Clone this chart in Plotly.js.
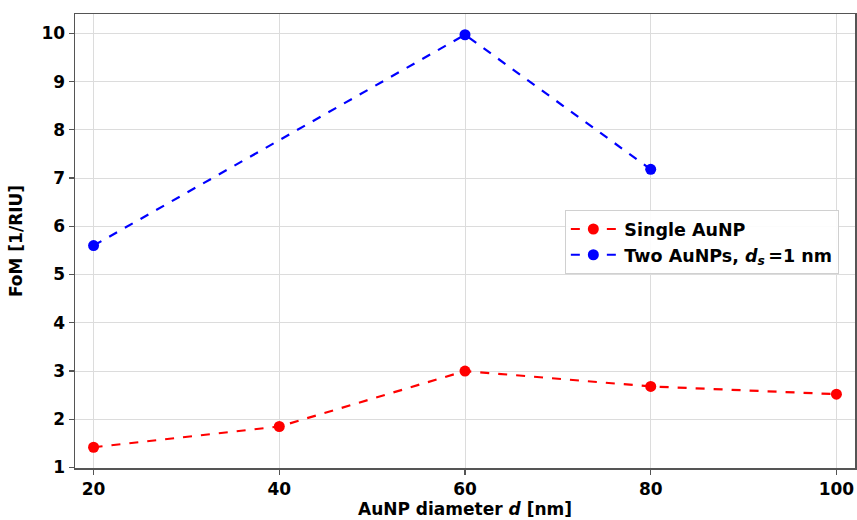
<!DOCTYPE html>
<html>
<head>
<meta charset="utf-8">
<script src="https://cdn.plot.ly/plotly-3.0.1.min.js"></script>
<style>html,body{margin:0;padding:0;background:#fff;}#chart{width:857px;height:520px;}</style>
</head>
<body>
<div id="chart"></div>
<script>
const diameters = [20, 40, 60, 80, 100];
const singleFoM = [1.42, 1.85, 3.0, 2.68, 2.52];
const twoDiameters = [20, 60, 80];
const twoFoM = [5.6, 9.97, 7.18];
const xTicks = [20, 40, 60, 80, 100];
const yTicks = [1, 2, 3, 4, 5, 6, 7, 8, 9, 10];

const font = {family: 'DejaVu Sans, sans-serif', color: '#000'};

const traces = [
  {x: diameters, y: singleFoM, mode: 'lines+markers', name: '\u2009Single AuNP',
   line: {color: '#ff0000', dash: 'dash', width: 2.2}, marker: {color: '#ff0000', size: 11}},
  {x: twoDiameters, y: twoFoM, mode: 'lines+markers', name: '\u2009Two AuNPs, <i>d</i><sub><i>s</i></sub>\u2009=1 nm',
   line: {color: '#0000ff', dash: 'dash', width: 2.2}, marker: {color: '#0000ff', size: 11}}
];

const axisCommon = {
  showline: true, mirror: true, linecolor: '#555', linewidth: 1.5,
  ticks: 'outside', ticklen: 5, tickcolor: '#555', tickwidth: 1.2,
  showgrid: true, gridcolor: '#dcdcdc', gridwidth: 1, zeroline: false,
  tickfont: {family: font.family, size: 17, color: '#000', weight: 'bold'}
};

const layout = {
  width: 857, height: 520,
  margin: {l: 75, r: 2, t: 14, b: 52},
  paper_bgcolor: '#fff', plot_bgcolor: '#fff',
  font: font,
  xaxis: Object.assign({}, axisCommon, {
    range: [18, 102], tickvals: xTicks,
    title: {text: '<b>AuNP diameter <i>d</i> [nm]</b>', font: {family: font.family, size: 17, color: '#000'}, standoff: 4}
  }),
  yaxis: Object.assign({}, axisCommon, {
    range: [0.99, 10.4], tickvals: yTicks,
    title: {text: '<b>FoM [1/RIU]</b>', font: {family: font.family, size: 17, color: '#000'}, standoff: 14}
  }),
  legend: {
    x: 0.628, y: 0.568, xanchor: 'left', yanchor: 'top',
    bgcolor: 'rgba(255,255,255,0.9)', bordercolor: '#d0d0d0', borderwidth: 1,
    font: {family: font.family, size: 17.5, color: '#000', weight: 'bold'},
    itemwidth: 45, tracegroupgap: 2
  },
  showlegend: true
};

Plotly.newPlot('chart', traces, layout, {displayModeBar: false, staticPlot: true});
</script>
</body>
</html>
